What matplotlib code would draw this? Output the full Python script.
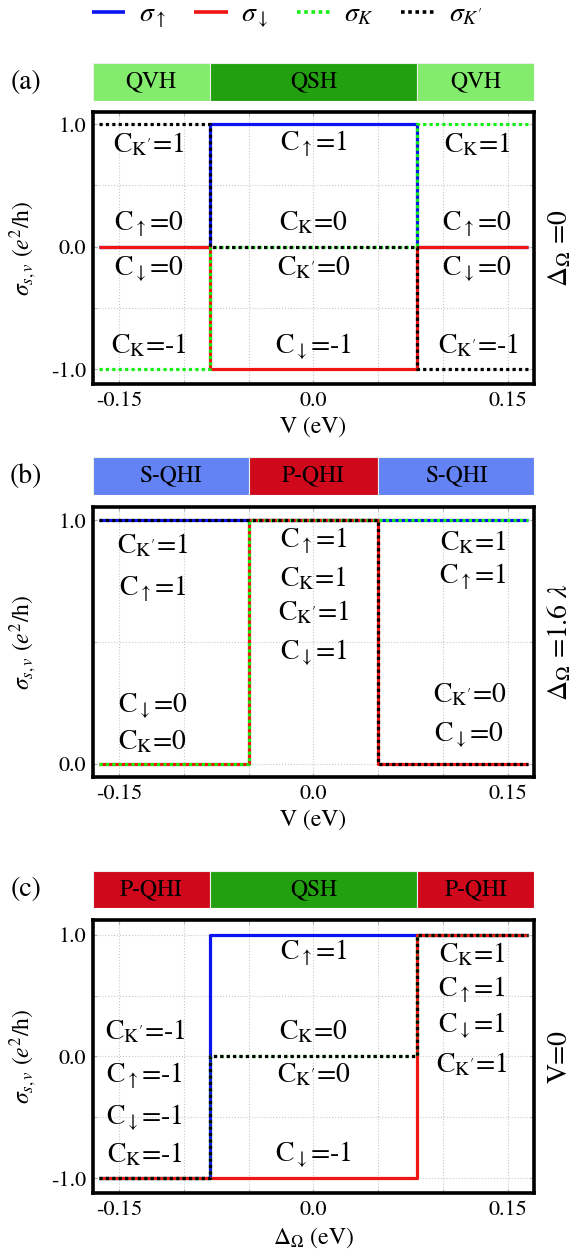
import matplotlib
matplotlib.use("Agg")
import matplotlib.pyplot as plt
from matplotlib.lines import Line2D
import matplotlib.ticker as mticker

plt.rcParams['font.family'] = ['STIXGeneral', 'DejaVu Sans']
plt.rcParams['mathtext.fontset'] = 'stix'
plt.rcParams['axes.unicode_minus'] = False

# ---------------------------------------------------------------------------
# data
# ---------------------------------------------------------------------------
x_range = [-0.165, 0.165]

# (a) V sweep, Delta_Omega = 0
edges_a = [-0.08, 0.08]
up_a = [0, 1, 0]
dn_a = [0, -1, 0]
k_a = [-1, 0, 1]
kp_a = [1, 0, -1]
phase_a = ['QVH', 'QSH', 'QVH']

# (b) V sweep, Delta_Omega = 1.6 lambda
edges_b = [-0.05, 0.05]
up_b = [1, 1, 1]
dn_b = [0, 1, 0]
k_b = [0, 1, 1]
kp_b = [1, 1, 0]
phase_b = ['S-QHI', 'P-QHI', 'S-QHI']

# (c) Delta_Omega sweep, V = 0
edges_c = [-0.08, 0.08]
up_c = [-1, 1, 1]
dn_c = [-1, -1, 1]
k_c = [-1, 0, 1]
kp_c = [-1, 0, 1]
phase_c = ['P-QHI', 'QSH', 'P-QHI']

phase_colors = {'QVH': '#84ec6c', 'QSH': '#23a00f',
                'S-QHI': '#6382f3', 'P-QHI': '#d0081c'}

# Chern number labels
up, dn, K, Kp = r'$_{\uparrow}$', r'$_{\downarrow}$', r'$_{\mathrm{K}}$', r"$_{\mathrm{K'}}$"
labels_a = [(-0.127, 0.77, 'C' + Kp + '=1'), (-0.127, 0.13, 'C' + up + '=0'),
            (-0.127, -0.23, 'C' + dn + '=0'), (-0.127, -0.87, 'C' + K + '=-1'),
            (0.0, 0.79, 'C' + up + '=1'), (0.0, 0.13, 'C' + K + '=0'),
            (0.0, -0.23, 'C' + Kp + '=0'), (0.0, -0.87, 'C' + dn + '=-1'),
            (0.126, 0.77, 'C' + K + '=1'), (0.126, 0.13, 'C' + up + '=0'),
            (0.126, -0.23, 'C' + dn + '=0'), (0.127, -0.87, 'C' + Kp + '=-1')]
labels_b = [(-0.124, 0.865, 'C' + Kp + '=1'), (-0.124, 0.69, 'C' + up + '=1'),
            (-0.124, 0.21, 'C' + dn + '=0'), (-0.124, 0.06, 'C' + K + '=0'),
            (0.0, 0.89, 'C' + up + '=1'), (0.0, 0.73, 'C' + K + '=1'),
            (0.0, 0.59, 'C' + Kp + '=1'), (0.0, 0.43, 'C' + dn + '=1'),
            (0.123, 0.875, 'C' + K + '=1'), (0.123, 0.74, 'C' + up + '=1'),
            (0.12, 0.25, 'C' + Kp + '=0'), (0.12, 0.09, 'C' + dn + '=0')]
labels_c = [(-0.13, 0.14, 'C' + Kp + '=-1'), (-0.13, -0.21, 'C' + up + '=-1'),
            (-0.13, -0.56, 'C' + dn + '=-1'), (-0.13, -0.87, 'C' + K + '=-1'),
            (0.0, 0.80, 'C' + up + '=1'), (0.0, 0.14, 'C' + K + '=0'),
            (0.0, -0.21, 'C' + Kp + '=0'), (0.0, -0.865, 'C' + dn + '=-1'),
            (0.122, 0.77, 'C' + K + '=1'), (0.122, 0.49, 'C' + up + '=1'),
            (0.122, 0.20, 'C' + dn + '=1'), (0.122, -0.13, 'C' + Kp + '=1')]


def steps(edges, vals):
    xs = [x_range[0]]
    ys = [vals[0]]
    for e, a, b in zip(edges, vals[:-1], vals[1:]):
        xs += [e, e]
        ys += [a, b]
    xs.append(x_range[1])
    ys.append(vals[-1])
    return xs, ys


fig = plt.figure(figsize=(5.8, 12.58), dpi=100)

L, W = 0.160, 0.761
panels = [
    # main axes box, bar box, edges, series, phases, labels, ylim, yticks, xlabel, side text, tag
    ([L, 0.6948, W, 0.2162], [L, 0.9197, W, 0.0302], edges_a,
     (up_a, dn_a, k_a, kp_a), phase_a, labels_a, (-1.12, 1.10), [-1, -0.5, 0, 0.5, 1],
     'V (eV)', r'$\Delta_{\Omega}$ =0', '(a)'),
    ([L, 0.3823, W, 0.2146], [L, 0.6065, W, 0.0302], edges_b,
     (up_b, dn_b, k_b, kp_b), phase_b, labels_b, (-0.055, 1.055), [0, 0.25, 0.5, 0.75, 1],
     'V (eV)', r'$\Delta_{\Omega}$ =1.6 $\lambda$', '(b)'),
    ([L, 0.0517, W, 0.2170], [L, 0.2782, W, 0.0294], edges_c,
     (up_c, dn_c, k_c, kp_c), phase_c, labels_c, (-1.12, 1.12), [-1, -0.5, 0, 0.5, 1],
     r'$\Delta_{\Omega}$ (eV)', 'V=0', '(c)'),
]

styles = [dict(color='#0a14f0', ls='-'), dict(color='#f01414', ls='-'),
          dict(color='#14f014', ls=(0, (1, 1))), dict(color='black', ls=(0, (1, 1)))]

for box, bbox, edges, series, phases, labels, ylim, ygrid, xlab, side, tag in panels:
    ax = fig.add_axes(box)
    for vals, st in zip(series, styles):
        xs, ys = steps(edges, vals)
        ax.plot(xs, ys, lw=2.3, solid_capstyle='butt', dash_capstyle='butt', **st)

    ax.set_xlim(-0.17, 0.17)
    ax.set_ylim(*ylim)
    ax.xaxis.set_major_locator(mticker.FixedLocator([-0.15, 0.0, 0.15]))
    ax.xaxis.set_minor_locator(mticker.MultipleLocator(0.05))
    ax.xaxis.set_major_formatter(mticker.FixedFormatter(['-0.15', '0.0', '0.15']))
    yt = [v for v in ygrid if v in (-1, 0, 1)]
    ax.yaxis.set_major_locator(mticker.FixedLocator(yt))
    ax.yaxis.set_major_formatter(mticker.FixedFormatter(['%.1f' % v for v in yt]))
    ax.yaxis.set_minor_locator(mticker.FixedLocator([0.5 * i for i in range(-2, 3)]))
    ax.grid(True, which='both', color='#c8c8c8', ls=':', lw=0.8)
    ax.set_axisbelow(True)
    ax.tick_params(which='both', direction='in', length=3, color='#b0b0b0',
                   top=True, right=True, labelsize=16, pad=5)
    for s in ax.spines.values():
        s.set_linewidth(2.6)
    ax.set_xlabel(xlab, fontsize=17, labelpad=4)
    ax.set_ylabel(r'$\sigma_{s,v}$ ($e^2$/h)', fontsize=17)
    ax.yaxis.set_label_coords(-0.125, 0.5)

    for x, y, t in labels:
        ax.text(x, y, t, fontsize=20, ha='center', va='baseline')

    cy = box[1] + box[3] / 2
    fig.text(0.965, cy, side, rotation=90, fontsize=20, ha='center', va='center')

    # phase bar
    bx = fig.add_axes(bbox)
    bounds = [-0.17] + list(edges) + [0.17]
    for i, ph in enumerate(phases):
        bx.axvspan(bounds[i], bounds[i + 1], color=phase_colors[ph], ec='#e8f0e8', lw=0.8)
        bx.text((bounds[i] + bounds[i + 1]) / 2, 0.5, ph, fontsize=17,
                ha='center', va='center')
    bx.set_xlim(-0.17, 0.17)
    bx.set_ylim(0, 1)
    bx.axis('off')
    fig.text(0.045, bbox[1] + bbox[3] / 2, tag, fontsize=20, ha='center', va='center')

handles = [Line2D([], [], lw=2.6, solid_capstyle='butt', dash_capstyle='butt', **st)
           for st in styles]
names = [r'$\sigma_{\uparrow}$', r'$\sigma_{\downarrow}$', r'$\sigma_{K}$', r"$\sigma_{K'}$"]
fig.legend(handles, names, loc='center', bbox_to_anchor=(0.495, 0.987), ncol=4,
           frameon=False, fontsize=20, handlelength=1.2, columnspacing=1.0,
           handletextpad=0.5)

fig.savefig('out.png', dpi=100)
